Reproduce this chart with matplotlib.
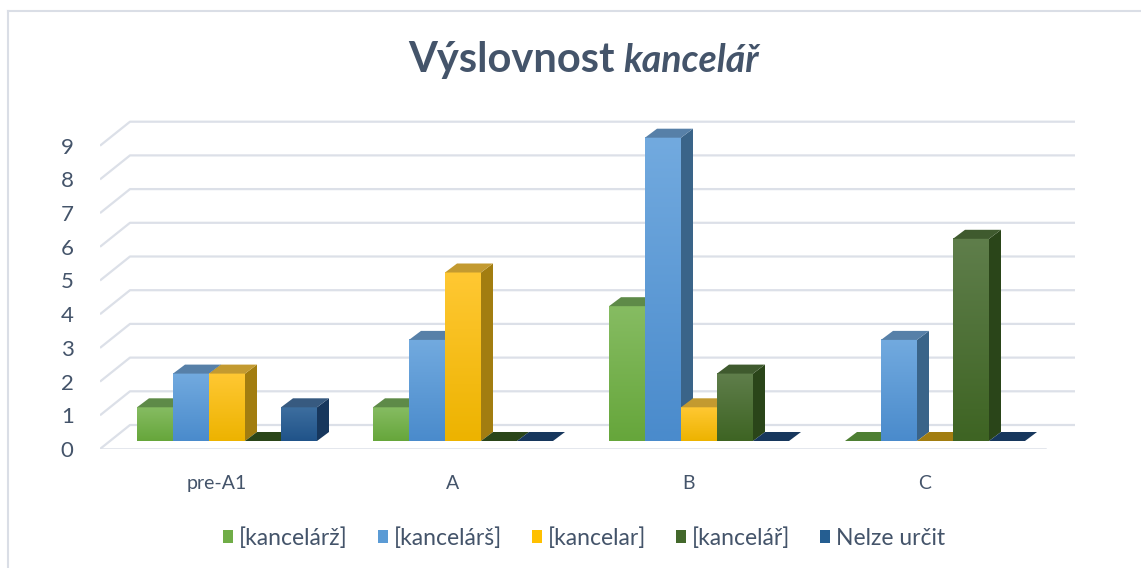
import numpy as np
import matplotlib.pyplot as plt
from matplotlib.patches import Polygon, Patch
from matplotlib.lines import Line2D
from matplotlib.colors import to_rgb

plt.rcParams['font.family'] = ['Lato', 'DejaVu Sans']

# data
categories = ['pre-A1', 'A', 'B', 'C']
series_names = ['[kancelárž]', '[kancelárš]', '[kancelar]', '[kancelář]', 'Nelze určit']
values = [
    [1, 1, 4, 0],   # [kancelárž]
    [2, 3, 9, 3],   # [kancelárš]
    [2, 5, 1, 0],   # [kancelar]
    [0, 0, 2, 6],   # [kancelář]
    [1, 0, 0, 0],   # Nelze určit
]
yticks = list(range(10))

# colours: base, light (top of gradient), top face, side face
base_cols = ['#66A63B', '#4A8BCC', '#EDB300', '#3E6423', '#205389']
light_cols = ['#86BC62', '#72AADF', '#FFC833', '#5F7E4B', '#3D6E9F']
top_cols = ['#5E8A48', '#5780A8', '#C39A30', '#3F5A2E', '#375A80']
side_cols = ['#4E7F33', '#3A6489', '#A27D10', '#2A4519', '#17375D']
legend_cols = ['#70AD47', '#5B9BD5', '#FFC000', '#43682B', '#255E91']
text_col = '#44546A'
grid_col = '#DCE0E8'

W, H = 1141, 568
fig = plt.figure(figsize=(W / 100, H / 100), dpi=100)
fig.patch.set_facecolor('white')

# axes placed in pixel terms: x 100..1075, y=0 at 449, 33.7 px per unit
px_unit_x = 236.0
px_unit_y = 33.7
ax = fig.add_axes([100 / W, (H - 449) / H, 975 / W, 10 * px_unit_y / H])
xmin = (100 - 217) / px_unit_x
xmax = (1075 - 217) / px_unit_x
ymax = 10

# depth vectors in data units
floor_d = (30 / px_unit_x, 24 / px_unit_y)
bar_off = (10 / px_unit_x, 8 / px_unit_y)
bar_d = (12 / px_unit_x, 9 / px_unit_y)
w = 36 / px_unit_x

# back wall gridlines
for v in yticks:
    ax.plot([xmin, xmin + floor_d[0], xmax], [v, v + floor_d[1], v + floor_d[1]],
            color=grid_col, lw=1.6, solid_capstyle='butt', zorder=1)
# floor front edge
ax.plot([xmin, xmax - floor_d[0]], [0, 0], color=grid_col, lw=1.8, zorder=1)

n = len(series_names)
for i in range(len(categories)):
    for j in range(n):
        v = values[j][i]
        x0 = i - n * w / 2 + j * w + bar_off[0]
        y0 = bar_off[1]
        y1 = v + bar_off[1]
        if v > 0:
            c1 = np.array(to_rgb(base_cols[j]))
            c2 = np.array(to_rgb(light_cols[j]))
            t = np.linspace(0, 1, 64)[:, None]
            grad = (c1 * (1 - t) + c2 * t)[:, None, :]
            ax.imshow(grad, extent=[x0, x0 + w, y0, y1], origin='lower',
                      aspect='auto', interpolation='bilinear', zorder=3)
            ax.add_patch(Polygon([(x0 + w, y0), (x0 + w + bar_d[0], y0 + bar_d[1]),
                                  (x0 + w + bar_d[0], y1 + bar_d[1]), (x0 + w, y1)],
                                 closed=True, facecolor=side_cols[j], edgecolor='none', zorder=3))
        ax.add_patch(Polygon([(x0, y1), (x0 + w, y1),
                              (x0 + w + bar_d[0], y1 + bar_d[1]), (x0 + bar_d[0], y1 + bar_d[1])],
                             closed=True,
                             facecolor=top_cols[j] if v > 0 else side_cols[j],
                             edgecolor='none', zorder=3))

ax.set_xlim(xmin, xmax)
ax.set_ylim(0, ymax)
ax.set_yticks(yticks)
ax.set_yticklabels([str(v) for v in yticks], fontsize=16, color=text_col)
ax.set_xticks(range(len(categories)))
ax.set_xticklabels(categories, fontsize=14, color=text_col)
ax.tick_params(axis='y', length=0, pad=19)
ax.tick_params(axis='x', length=0, pad=19)
for s in ax.spines.values():
    s.set_visible(False)
ax.patch.set_visible(False)

# title
fig.text(615 / W, 1 - 72 / H, 'Výslovnost', fontsize=30, fontweight='bold',
         color=text_col, ha='right', va='baseline')
fig.text(623 / W, 1 - 72 / H, 'kancelář', fontsize=27, fontweight='bold',
         style='italic', color=text_col, ha='left', va='baseline')

# legend
handles = [Patch(facecolor=c, edgecolor='none') for c in legend_cols]
fig.legend(handles, series_names, loc='center', bbox_to_anchor=(0.512, 1 - 538 / H),
           ncol=5, frameon=False, fontsize=16.5, labelcolor=text_col,
           handlelength=0.45, handleheight=0.45, handletextpad=0.25, columnspacing=1.3)

# chart border
fig.add_artist(Line2D([8 / W, 8 / W], [0, 1 - 11 / H], transform=fig.transFigure,
                      color='#DADEE6', lw=1.5))
fig.add_artist(Line2D([8 / W, 1], [1 - 11 / H, 1 - 11 / H], transform=fig.transFigure,
                      color='#DADEE6', lw=1.5))

fig.savefig('out.png', dpi=100)
